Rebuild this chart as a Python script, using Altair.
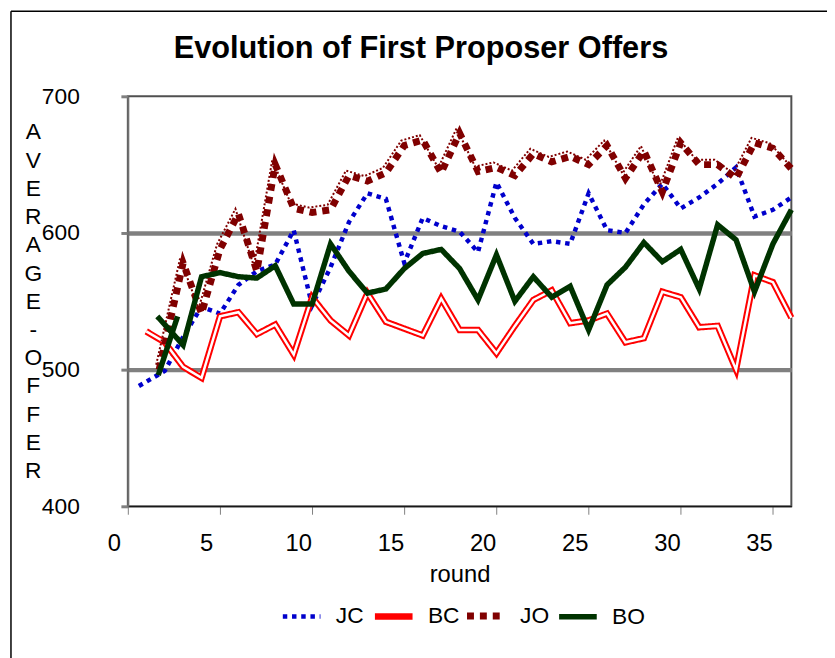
import altair as alt
import pandas as pd

# ---------------- data ----------------
series_names = ["JC", "BC", "JO", "BO"]
series_colors = ["#0000CC", "#FF0000", "#800000", "#003300"]

jc_round = [0.6, 2, 3, 4, 5, 6, 7, 8, 9, 10, 11, 12, 13, 14, 15, 16, 17, 18,
            19, 20, 21, 22, 23, 24, 25, 26, 27, 28, 29, 30, 31, 32, 33, 34, 35, 36]
jc_value = [488, 499, 524, 546, 541, 562, 572, 577, 602, 547, 575, 608, 629, 625,
            578, 611, 605, 601, 586, 637, 611, 592, 594, 592, 629, 602, 600, 621,
            636, 618, 626, 636, 648, 612, 617, 626]

bc_round = list(range(1, 37))
bc_value = [528, 520, 502, 494, 539, 542, 526, 533, 511, 553, 536, 525, 556, 535,
            530, 525, 552, 529, 529, 512, 532, 551, 558, 534, 536, 541, 520, 523,
            557, 553, 531, 532, 500, 569, 564, 538]

jo_round = [1.7] + list(range(3, 37))
jo_value = [500, 578, 541, 588, 614, 572, 650, 618, 615, 617, 642, 638, 644, 664,
            668, 644, 673, 645, 648, 642, 658, 652, 656, 650, 664, 640, 660, 630,
            666, 650, 650, 640, 666, 662, 647]

bo_round = [1.6] + list(range(3, 37))
bo_value = [539, 518, 568, 571, 568, 567, 576, 548, 548, 592, 572, 556, 559, 574,
            585, 588, 574, 551, 584, 550, 568, 553, 561, 529, 562, 575, 593, 579,
            588, 559, 606, 595, 557, 592, 617]
bo_extra_round = [1.65, 2.7]
bo_extra_value = [496, 539]

x_tick_values = [0, 5, 10, 15, 20, 25, 30, 35]
y_tick_values = [400, 500, 600, 700]
y_title_letters = list("AVERAGE-OFFER")

# ---------------- table ----------------
rows = []
for s, rr, vv, seg in [("JC", jc_round, jc_value, "a"), ("BC", bc_round, bc_value, "a"),
                       ("JO", jo_round, jo_value, "a"), ("BO", bo_round, bo_value, "a"),
                       ("BO", bo_extra_round, bo_extra_value, "b")]:
    for r, v in zip(rr, vv):
        rows.append({"series": s, "seg": seg, "round": r, "value": v})
df = pd.DataFrame(rows)

FONT = "Liberation Sans"
x_scale = alt.Scale(domain=[0, 36], nice=False, zero=False)

# axis with the line, tick marks and the title
x_axis_main = alt.Axis(values=x_tick_values, orient="bottom", title="round", grid=False,
                       labels=False, tickSize=8, tickColor="#808080", tickWidth=1,
                       domainColor="black", domainWidth=1,
                       titleFont=FONT, titleFontSize=24, titleFontWeight="normal",
                       titleColor="black", titleX=335, titleY=76,
                       titleAlign="center", titleBaseline="alphabetic")
# axis that carries only the tick labels (drawn a little to the left, as in the reference)
x_axis_labels = alt.Axis(values=x_tick_values, orient="bottom", title=None, grid=False,
                         domain=False, ticks=False, position=-14,
                         labelFont=FONT, labelFontSize=24, labelColor="black",
                         labelPadding=26, labelFlush=False, labelOverlap=False)

y_enc = alt.Y("value:Q",
              scale=alt.Scale(domain=[400, 700], nice=False, zero=False),
              axis=alt.Axis(values=y_tick_values, format="d",
                            labelFont=FONT, labelFontSize=23, labelColor="black",
                            labelPadding=42, labelFlush=False, labelOverlap=False,
                            tickSize=7, tickWidth=3, tickColor="#808080",
                            domainColor="#707070", domainWidth=2,
                            grid=True, gridColor="#808080",
                            gridWidth={"condition": {"test": "datum.value == 500 || datum.value == 600",
                                                     "value": 4.5},
                                       "value": 0},
                            title=y_title_letters, titleAngle=0,
                            titleFont=FONT, titleFontSize=23, titleFontWeight="normal",
                            titleColor="black", titleX=-96, titleY=36,
                            titleAlign="center", titleBaseline="middle",
                            titleLineHeight=28.5))

leg = alt.Legend(title=None, orient="none", legendX=153, legendY=502,
                 direction="horizontal", columns=4, symbolType="stroke",
                 symbolSize=1444, labelFont=FONT, labelFontSize=23,
                 labelColor="black", labelOffset=12, columnPadding=-9,
                 gridAlign="all", padding=0)

color_enc = alt.Color("series:N", scale=alt.Scale(domain=series_names, range=series_colors),
                      legend=leg)
dash_enc = alt.StrokeDash("series:N",
                          scale=alt.Scale(domain=series_names,
                                          range=[[4.5, 4.8], [1, 0], [7, 6], [1, 0]]),
                          legend=leg)
width_enc = alt.StrokeWidth("series:N",
                            scale=alt.Scale(type="ordinal", domain=series_names,
                                            range=[4.5, 6.5, 7, 5.5]),
                            legend=leg)

base = alt.Chart(df)


def series_line(name, axis=None):
    return base.transform_filter(alt.datum.series == name).mark_line().encode(
        x=alt.X("round:Q", scale=x_scale, axis=axis), y=y_enc, color=color_enc,
        strokeDash=dash_enc, strokeWidth=width_enc, detail="seg:N")


jc_line = series_line("JC", x_axis_main)
bc_line = series_line("BC")
bc_inner = base.transform_filter(alt.datum.series == "BC").mark_line(
    color="white", strokeWidth=2.5).encode(
    x=alt.X("round:Q", scale=x_scale, axis=x_axis_labels), y=y_enc)
jo_line = series_line("JO")
jo_thin = base.transform_filter(alt.datum.series == "JO").mark_line(
    color="#800000", strokeWidth=2, strokeDash=[2, 2], xOffset=-3, yOffset=-5
).encode(x=alt.X("round:Q", scale=x_scale, axis=None), y=y_enc)
bo_line = series_line("BO")

frame_df = pd.DataFrame({"k": [0]})
border_left = alt.Chart(frame_df).mark_rule(color="black", strokeWidth=1.5).encode(
    x=alt.value(-118), y=alt.value(-86), y2=alt.value(570))
border_top = alt.Chart(frame_df).mark_rule(color="black", strokeWidth=1.5).encode(
    x=alt.value(-118), x2=alt.value(706), y=alt.value(-86))

chart = alt.layer(
    border_left, border_top, jc_line, bc_line, bc_inner, jo_line, jo_thin, bo_line
).resolve_axis(x="independent").properties(
    width=670, height=414,
    autosize=alt.AutoSizeParams(type="none"),
    padding={"left": 121, "top": 86, "right": 36, "bottom": 150},
    title=alt.TitleParams("Evolution of First Proposer Offers", font=FONT, fontSize=31,
                          fontWeight="bold", color="black", anchor="middle",
                          frame="group", dx=-39, baseline="alphabetic", offset=-79),
).configure_view(stroke="#505050", strokeWidth=2)

chart.save("out.html", embed_options={"renderer": "svg", "actions": False})
